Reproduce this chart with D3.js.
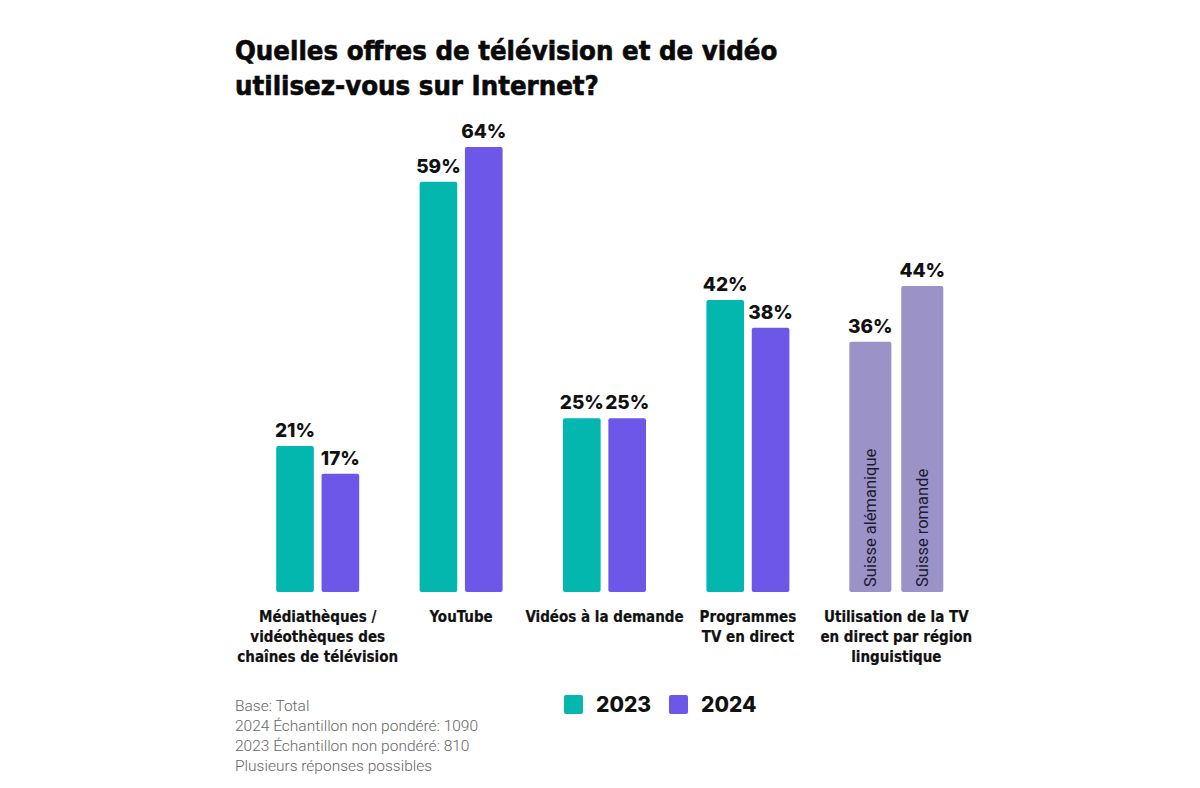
<!DOCTYPE html>
<html>
<head>
<meta charset="utf-8">
<script src="https://cdn.jsdelivr.net/npm/d3@7"></script>
<style>
  body { margin: 0; background: #fff; }
  .title { font-family: "DejaVu Sans Condensed", "DejaVu Sans"; font-weight: bold; font-size: 27.3px; fill: #0a0a0a; stroke: #0a0a0a; stroke-width: 0.6px; }
  .cat { font-family: "DejaVu Sans Condensed", "DejaVu Sans"; font-weight: bold; font-size: 15px; fill: #111; stroke: #111; stroke-width: 0.2px; }
  .value { font-family: Inter, Roboto, sans-serif; font-weight: 800; font-size: 19px; fill: #111; }
  .legend-text { font-family: Inter, Roboto, sans-serif; font-weight: 800; font-size: 21px; fill: #111; }
  .note { font-family: Roboto, sans-serif; font-size: 15.5px; font-weight: 300; fill: #666; }
  .inbar { font-family: Roboto, sans-serif; font-size: 16.5px; fill: #1c1a2c; }
</style>
</head>
<body>
<div id="wrapper"></div>
<script>
// data
const categories = [
  ["Médiathèques /", "vidéothèques des", "chaînes de télévision"],
  ["YouTube"],
  ["Vidéos à la demande"],
  ["Programmes", "TV en direct"],
];
const years = ["2023", "2024"];
const values2023 = [21, 59, 25, 42];
const values2024 = [17, 64, 25, 38];

const regionLabel = ["Utilisation de la TV", "en direct par région", "linguistique"];
const regions = ["Suisse alémanique", "Suisse romande"];
const regionValues = [36, 44];

const titleLines = ["Quelles offres de télévision et de vidéo", "utilisez-vous sur Internet?"];
const notes = [
  "Base: Total",
  "2024 Échantillon non pondéré: 1090",
  "2023 Échantillon non pondéré: 810",
  "Plusieurs réponses possibles",
];

const colors = { "2023": "#03b7af", "2024": "#6c57e8", region: "#9b93c8" };

// dimensions
const width = 1200, height = 788;
const baseline = 592;

const svg = d3.select("#wrapper").append("svg")
  .attr("width", width)
  .attr("height", height);

// scales
const groupKeys = categories.map((c, i) => "g" + i).concat(["region"]);
const x = d3.scaleBand()
  .domain(groupKeys)
  .range([246, 963]);

const y = d3.scaleLinear()
  .domain([0, 64])
  .range([baseline, 147]);

const xInner = d3.scaleBand()
  .domain(years)
  .range([-41.5, 41.5])
  .paddingInner(0.17);

const xRegion = d3.scaleBand()
  .domain(regions)
  .range([-47, 47])
  .paddingInner(0.19);

// title
svg.append("g")
  .selectAll("text")
  .data(titleLines)
  .join("text")
  .attr("class", "title")
  .attr("x", 235)
  .attr("y", (d, i) => 60 + i * 35)
  .text(d => d);

// main bars
const rows = categories.map((c, i) => ({ key: "g" + i, label: c, v: [values2023[i], values2024[i]] }));

const groups = svg.append("g")
  .selectAll("g")
  .data(rows)
  .join("g")
  .attr("transform", d => `translate(${x(d.key) + x.bandwidth() / 2},0)`);

groups.selectAll("rect")
  .data(d => years.map((yr, j) => ({ yr, value: d.v[j] })))
  .join("rect")
  .attr("x", d => xInner(d.yr))
  .attr("y", d => y(d.value))
  .attr("width", xInner.bandwidth())
  .attr("height", d => baseline - y(d.value))
  .attr("rx", 2)
  .attr("fill", d => colors[d.yr]);

groups.selectAll(".value")
  .data(d => years.map((yr, j) => ({ yr, value: d.v[j] })))
  .join("text")
  .attr("class", "value")
  .attr("text-anchor", "middle")
  .attr("x", d => xInner(d.yr) + xInner.bandwidth() / 2)
  .attr("y", d => y(d.value) - 9)
  .text(d => d.value + "%");

groups.selectAll(".cat")
  .data(d => d.label)
  .join("text")
  .attr("class", "cat")
  .attr("text-anchor", "middle")
  .attr("y", (d, i) => 622 + i * 20)
  .text(d => d);

// region group
const regionG = svg.append("g")
  .attr("transform", `translate(${x("region") + x.bandwidth() / 2 + 5},0)`);

const regionRows = regions.map((r, i) => ({ r, value: regionValues[i] }));

regionG.selectAll("rect")
  .data(regionRows)
  .join("rect")
  .attr("x", d => xRegion(d.r))
  .attr("y", d => y(d.value))
  .attr("width", xRegion.bandwidth())
  .attr("height", d => baseline - y(d.value))
  .attr("rx", 2)
  .attr("fill", colors.region);

regionG.selectAll(".value")
  .data(regionRows)
  .join("text")
  .attr("class", "value")
  .attr("text-anchor", "middle")
  .attr("x", d => xRegion(d.r) + xRegion.bandwidth() / 2)
  .attr("y", d => y(d.value) - 9)
  .text(d => d.value + "%");

regionG.selectAll(".inbar")
  .data(regionRows)
  .join("text")
  .attr("class", "inbar")
  .attr("transform", d => `translate(${xRegion(d.r) + xRegion.bandwidth() / 2 + 6},${baseline - 5}) rotate(-90)`)
  .text(d => d.r);

regionG.selectAll(".cat")
  .data(regionLabel)
  .join("text")
  .attr("class", "cat")
  .attr("text-anchor", "middle")
  .attr("y", (d, i) => 622 + i * 20)
  .text(d => d);

// notes
svg.append("g")
  .selectAll("text")
  .data(notes)
  .join("text")
  .attr("class", "note")
  .attr("x", 235)
  .attr("y", (d, i) => 711 + i * 20)
  .text(d => d);

// legend
const legend = svg.append("g")
  .attr("transform", "translate(564,695)");

const legendItems = legend.selectAll("g")
  .data(years)
  .join("g")
  .attr("transform", (d, i) => `translate(${i * 105},0)`);

legendItems.append("rect")
  .attr("width", 19)
  .attr("height", 19)
  .attr("rx", 2)
  .attr("fill", d => colors[d]);

legendItems.append("text")
  .attr("class", "legend-text")
  .attr("x", 32)
  .attr("y", 17)
  .text(d => d);
</script>
</body>
</html>
